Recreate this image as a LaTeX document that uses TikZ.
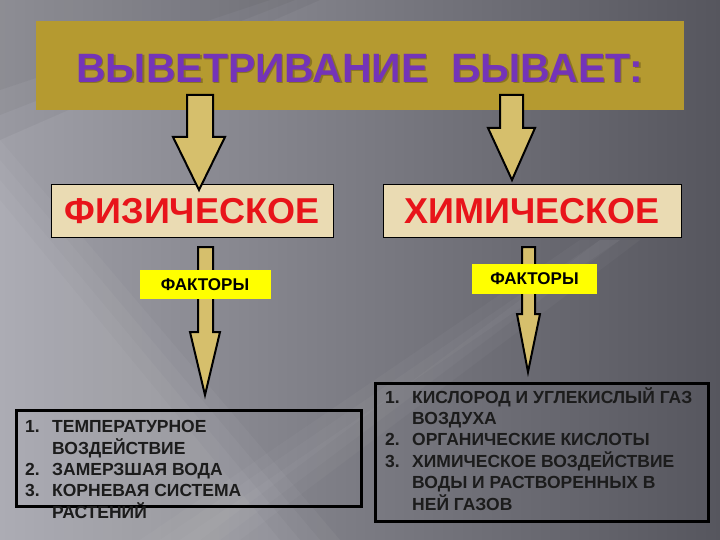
\documentclass[tikz,border=0pt]{standalone}
\usepackage{fontspec}
\setmainfont{Liberation Sans}
\definecolor{bgL}{HTML}{A0A0A8}
\definecolor{bgR}{HTML}{56565E}
\definecolor{banner}{HTML}{B59A30}
\definecolor{bannerdk}{HTML}{8A7422}
\definecolor{titlec}{HTML}{7434B8}
\definecolor{arrowc}{HTML}{D6BF6C}
\definecolor{boxc}{HTML}{EADBB3}
\definecolor{redc}{HTML}{E8141A}
\definecolor{yel}{HTML}{FFFF00}
\definecolor{listc}{HTML}{1C1C1C}
\tikzset{
  blockarrow/.style={fill=arrowc, draw=black, line width=2pt, line join=miter},
  kindbox/.style={fill=boxc, draw=black, line width=1pt, inner sep=0pt, font=\bfseries\fontsize{36}{40}\selectfont, text=redc},
  factbox/.style={fill=yel, inner sep=0pt, font=\bfseries\fontsize{17}{19}\selectfont, text=black},
  listbox/.style={draw=black, line width=3pt, inner sep=0pt},
  listtext/.style={inner sep=0pt, anchor=base west, text=listc, font=\bfseries\fontsize{17.5}{21}\selectfont}
}
\begin{document}
\begin{tikzpicture}[x=1pt,y=-1pt]
\useasboundingbox (0,0) rectangle (720,540);
% background
\shade[left color=bgL, right color=bgR] (0,0) rectangle (720,540);
\foreach \d/\o in {0/0.04,20/0.04,40/0.04,60/0.04}{
  \fill[white, opacity=\o] (0,140+\d) -- (340-\d,540) -- (0,540) -- cycle;
}
\foreach \d/\o in {0/0.04,25/0.04,50/0.04}{
  \fill[black, opacity=\o] (0,0) -- (320-\d,0) -- (0,140-\d) -- cycle;
}
\foreach \d in {0,20,40}{
  \fill[white, opacity=0.03] (140+\d,540) -- (580+\d,240) -- (640-\d,240) -- (240-\d,540) -- cycle;
}
% banner
\node[fill=banner, minimum width=648pt, minimum height=89pt, inner sep=0pt] (banner) at (360,66) {};
\node[text=bannerdk, font=\bfseries\fontsize{41}{44}\selectfont] at (361.5,69.5) {ВЫВЕТРИВАНИЕ\ \ БЫВАЕТ:};
\node[text=titlec, font=\bfseries\fontsize{41}{44}\selectfont] (title) at (360,68) {ВЫВЕТРИВАНИЕ\ \ БЫВАЕТ:};
% kind boxes
\node[kindbox, minimum width=282pt, minimum height=52pt] (phys) at (192,211) {ФИЗИЧЕСКОЕ};
\node[kindbox, minimum width=298pt, minimum height=52pt] (chem) at (532,211) {ХИМИЧЕСКОЕ};
% big arrows
\draw[blockarrow] (187,95) -- (213,95) -- (213,137) -- (225,137) -- (199,190) -- (173,137) -- (187,137) -- cycle;
\draw[blockarrow] (500,95) -- (523,95) -- (523,128) -- (535,128) -- (512,180) -- (488,128) -- (500,128) -- cycle;
% small arrows
\draw[blockarrow] (198,247) -- (213,247) -- (213,332) -- (220,332) -- (205,395) -- (190,332) -- (198,332) -- cycle;
\draw[blockarrow] (522,247) -- (535,247) -- (535,314) -- (540,314) -- (528,372) -- (517,314) -- (522,314) -- cycle;
% factor labels
\node[factbox, minimum width=131pt, minimum height=29pt] (f1) at (205,284.5) {ФАКТОРЫ};
\node[factbox, minimum width=125pt, minimum height=30pt] (f2) at (534.5,279) {ФАКТОРЫ};
% list boxes
\node[listbox, minimum width=345pt, minimum height=96pt] (l1) at (188.5,458.5) {};
\node[listbox, minimum width=333pt, minimum height=138pt] (l2) at (542,452) {};
\node[listtext] (t1) at (25,432) {\begin{tabular}[t]{@{}p{27pt}@{}l@{}}
1. & ТЕМПЕРАТУРНОЕ\\
   & ВОЗДЕЙСТВИЕ\\
2. & ЗАМЕРЗШАЯ ВОДА\\
3. & КОРНЕВАЯ СИСТЕМА\\
   & РАСТЕНИЙ
\end{tabular}};
\node[listtext] (t2) at (385,403) {\begin{tabular}[t]{@{}p{27pt}@{}l@{}}
1. & КИСЛОРОД И УГЛЕКИСЛЫЙ ГАЗ\\
   & ВОЗДУХА\\
2. & ОРГАНИЧЕСКИЕ КИСЛОТЫ\\
3. & ХИМИЧЕСКОЕ ВОЗДЕЙСТВИЕ\\
   & ВОДЫ И РАСТВОРЕННЫХ В\\
   & НЕЙ ГАЗОВ
\end{tabular}};
\end{tikzpicture}
\end{document}
